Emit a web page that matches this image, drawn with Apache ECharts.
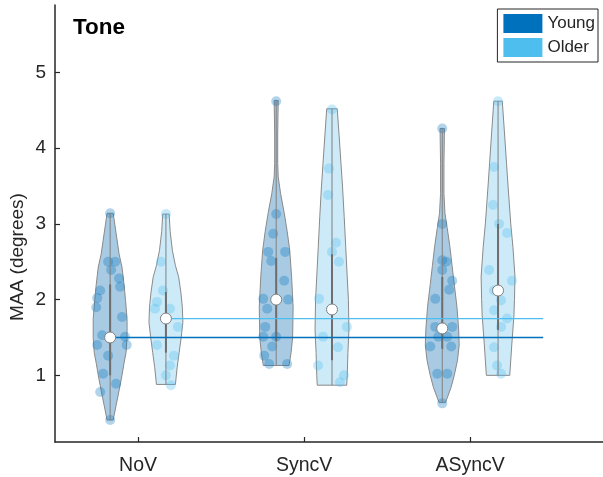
<!DOCTYPE html>
<html>
<head>
<meta charset="utf-8">
<script src="https://cdn.jsdelivr.net/npm/echarts@6/dist/echarts.min.js"></script>
<style>
  html, body { margin: 0; padding: 0; background: #fff; }
  #chart { width: 603px; height: 477px; }
</style>
</head>
<body>
<div id="chart"></div>
<script>
// Conditions on the x axis and the two listener groups
const categories = ['NoV', 'SyncV', 'ASyncV'];
const groupNames = ['Young', 'Older'];
const yTicks = [1, 2, 3, 4, 5];
const yTitle = 'MAA (degrees)';

// Medians and interquartile ranges (MAA, degrees)
const medianYoung = [1.5, 2.0, 1.62];
const medianOlder = [1.75, 1.87, 2.12];
const q1Young = [1.0, 1.45, 1.35];
const q3Young = [2.2, 2.55, 2.3];
const q1Older = [1.3, 1.2, 1.6];
const q3Older = [2.1, 2.6, 3.0];

// Individual listener values per condition
const noVYoung   = [3.14, 2.50, 2.50, 2.39, 2.28, 2.17, 2.12, 2.02, 1.90, 1.77, 1.53, 1.51, 1.40, 1.40, 1.26, 1.02, 0.89, 0.78, 0.41];
const syncVYoung = [4.62, 3.13, 2.87, 2.63, 2.63, 2.51, 2.25, 2.01, 2.00, 1.88, 1.64, 1.51, 1.51, 1.38, 1.26, 1.15, 1.15];
const aSyncVYoung= [4.26, 3.00, 2.52, 2.50, 2.39, 2.25, 2.13, 2.01, 1.64, 1.64, 1.51, 1.51, 1.38, 1.38, 1.02, 1.02, 0.63];
const noVOlder   = [3.13, 2.50, 2.12, 1.97, 1.88, 1.88, 1.64, 1.40, 1.26, 1.13, 1.00, 0.87];
const syncVOlder = [4.51, 3.73, 3.38, 2.75, 2.63, 2.50, 2.01, 1.64, 1.51, 1.37, 1.13, 1.00, 0.91];
const aSyncVOlder= [4.62, 3.75, 3.25, 3.00, 2.88, 2.39, 2.25, 2.12, 1.99, 1.86, 1.75, 1.64, 1.37, 1.13, 1.02];

// Horizontal jitter of the scatter points (x-axis units)
const noVYoungJit   = [0, -0.012, 0.03, 0.006, 0.054, 0.06, -0.06, -0.078, -0.084, 0.072, -0.048, 0.09, 0.1, -0.078, -0.012, -0.042, 0.036, -0.06, 0];
const syncVYoungJit = [0, 0, -0.018, -0.048, 0.054, -0.03, 0.048, -0.078, 0.072, -0.054, -0.066, 0, -0.078, -0.024, -0.072, -0.042, 0.066];
const aSyncVYoungJit= [0, 0, 0, 0.024, 0, 0.06, 0.042, -0.042, -0.042, 0.06, -0.024, 0.03, -0.072, 0.054, -0.03, 0.03, 0];
const noVOlderJit   = [0, -0.03, -0.018, -0.054, -0.066, 0.024, 0.072, -0.054, 0.048, 0.024, 0, 0.03];
const syncVOlderJit = [0, -0.018, -0.024, 0.024, 0, 0.042, -0.078, 0.09, -0.054, 0.036, -0.084, 0.072, 0.048];
const aSyncVOlderJit= [0, -0.024, -0.03, 0.006, 0.054, -0.054, 0.084, -0.024, 0.018, -0.024, 0.054, 0.018, -0.024, -0.006, 0.018];

// Kernel density profiles: [MAA, density normalised to 1]
const densNoVYoung = [[3.14,0.18],[2.88,0.35],[2.6,0.53],[2.43,0.7],[2.2,0.82],[1.99,0.91],[1.75,1.0],[1.5,1.0],[1.3,0.94],[1.16,0.82],[1.0,0.7],[0.8,0.53],[0.6,0.35],[0.41,0.18]];
const densSyncVYoung = [[4.63,0.12],[4.2,0.09],[3.8,0.09],[3.62,0.12],[3.4,0.26],[3.15,0.47],[2.9,0.65],[2.65,0.8],[2.3,0.91],[1.9,1.0],[1.5,0.97],[1.3,0.88],[1.13,0.76]];
const densASyncVYoung = [[4.26,0.13],[3.8,0.1],[3.4,0.1],[3.14,0.16],[2.95,0.29],[2.7,0.45],[2.45,0.58],[2.2,0.71],[1.9,0.87],[1.6,0.97],[1.4,1.0],[1.2,0.9],[1.0,0.71],[0.84,0.52],[0.64,0.19]];
const densNoVOlder = [[3.13,0.19],[2.9,0.25],[2.65,0.38],[2.45,0.56],[2.3,0.75],[2.1,0.88],[1.9,0.97],[1.7,1.0],[1.5,0.9],[1.3,0.78],[1.1,0.66],[0.88,0.56]];
const densSyncVOlder = [[4.52,0.31],[4.2,0.41],[3.8,0.53],[3.5,0.62],[3.1,0.72],[2.7,0.81],[2.3,0.9],[2.0,0.97],[1.6,1.0],[1.3,0.94],[1.0,0.9],[0.87,0.87]];
const densASyncVOlder = [[4.62,0.25],[4.2,0.38],[3.8,0.5],[3.5,0.59],[3.0,0.75],[2.69,0.88],[2.3,1.0],[2.0,0.97],[1.8,0.94],[1.4,0.81],[1.0,0.69]];

// ---- layout / style constants ----
const FONT = '"Liberation Sans", Arial, Helvetica, sans-serif';
const TEXT = '#262626';
const YOUNG = '#0072BD';
const OLDER = '#4DBEEE';
const GROUP_OFFSET = 0.168;   // violin centre offset from the condition tick
const HALF_WIDTH = 0.102;     // maximum half-width of a violin (x units)
const REF_END = 3.44;         // right end of the baseline reference lines

const young = {
  name: 'Young', color: YOUNG, offset: -GROUP_OFFSET,
  values: [noVYoung, syncVYoung, aSyncVYoung],
  jitter: [noVYoungJit, syncVYoungJit, aSyncVYoungJit],
  dens: [densNoVYoung, densSyncVYoung, densASyncVYoung],
  median: medianYoung, q1: q1Young, q3: q3Young,
  fill: 'rgba(0,100,170,0.34)', dot: 'rgba(0,114,189,0.38)'
};
const older = {
  name: 'Older', color: OLDER, offset: GROUP_OFFSET,
  values: [noVOlder, syncVOlder, aSyncVOlder],
  jitter: [noVOlderJit, syncVOlderJit, aSyncVOlderJit],
  dens: [densNoVOlder, densSyncVOlder, densASyncVOlder],
  median: medianOlder, q1: q1Older, q3: q3Older,
  fill: 'rgba(77,180,230,0.28)', dot: 'rgba(77,190,238,0.40)'
};

function violinSeries(g) {
  return {
    name: g.name,
    type: 'custom',
    z: 2,
    itemStyle: { color: g.color },
    data: categories.map((c, i) => [i + 1, g.median[i]]),
    renderItem: function (params, api) {
      const i = params.dataIndex;
      const cx = api.value(0) + g.offset;
      const prof = g.dens[i];
      const left = prof.map(p => api.coord([cx - p[1] * HALF_WIDTH, p[0]]));
      const right = prof.slice().reverse().map(p => api.coord([cx + p[1] * HALF_WIDTH, p[0]]));
      return {
        type: 'polygon',
        shape: { points: left.concat(right) },
        style: { fill: g.fill, stroke: '#8a8a8a', lineWidth: 1 }
      };
    }
  };
}

function boxSeries(g) {
  return {
    name: g.name + ' box',
    type: 'custom',
    z: 4,
    silent: true,
    data: categories.map((c, i) => [i + 1, g.median[i]]),
    renderItem: function (params, api) {
      const i = params.dataIndex;
      const cx = api.value(0) + g.offset;
      const prof = g.dens[i];
      const top = api.coord([cx, prof[0][0]]);
      const bot = api.coord([cx, prof[prof.length - 1][0]]);
      const b1 = api.coord([cx, g.q3[i]]);
      const b2 = api.coord([cx, g.q1[i]]);
      return {
        type: 'group',
        children: [
          { type: 'line', shape: { x1: top[0], y1: top[1], x2: bot[0], y2: bot[1] },
            style: { stroke: '#808080', lineWidth: 1 } },
          { type: 'line', shape: { x1: b1[0], y1: b1[1], x2: b2[0], y2: b2[1] },
            style: { stroke: '#6e6e6e', lineWidth: 2 } }
        ]
      };
    }
  };
}

function pointSeries(g) {
  const data = [];
  g.values.forEach((vals, i) => {
    vals.forEach((v, k) => data.push([i + 1 + g.offset + g.jitter[i][k], v]));
  });
  return {
    name: g.name + ' points',
    type: 'scatter',
    z: 3,
    silent: true,
    symbolSize: 10,
    itemStyle: { color: g.dot, borderWidth: 0 },
    data: data
  };
}

function medianSeries(g) {
  return {
    name: g.name + ' median',
    type: 'scatter',
    z: 6,
    silent: true,
    symbolSize: 11,
    itemStyle: { color: '#ffffff', borderColor: '#7f7f7f', borderWidth: 1, opacity: 1 },
    data: g.median.map((m, i) => [i + 1 + g.offset, m])
  };
}

function refLine(g) {
  return {
    name: g.name + ' baseline',
    type: 'line',
    z: 5,
    silent: true,
    symbol: 'none',
    lineStyle: { color: g.color, width: 1.3 },
    data: [[1 + g.offset, g.median[0]], [REF_END, g.median[0]]]
  };
}

const chart = echarts.init(document.getElementById('chart'), null, { renderer: 'canvas' });
chart.setOption({
  animation: false,
  backgroundColor: '#ffffff',
  textStyle: { fontFamily: FONT },
  title: {
    text: 'Tone', left: 73, top: 16, padding: 0,
    textStyle: { fontFamily: FONT, fontSize: 22.5, fontWeight: 'bold', color: '#000' }
  },
  legend: {
    orient: 'vertical', right: 5, top: 9,
    padding: [5, 3, 5, 6], itemGap: 5,
    itemWidth: 39, itemHeight: 19,
    borderColor: '#262626', borderWidth: 1, backgroundColor: '#fff',
    selectedMode: false,
    textStyle: { fontFamily: FONT, fontSize: 17, color: TEXT, padding: [0, 0, 0, 0] },
    data: [
      { name: groupNames[0], icon: 'rect', itemStyle: { color: YOUNG, opacity: 1, borderWidth: 0 } },
      { name: groupNames[1], icon: 'rect', itemStyle: { color: OLDER, opacity: 1, borderWidth: 0 } }
    ]
  },
  graphic: [{
    type: 'text',
    x: 18, y: 257, rotation: Math.PI / 2,
    style: {
      text: yTitle, fontFamily: FONT, fontSize: 19, fill: TEXT,
      align: 'center', verticalAlign: 'middle'
    }
  }],
  grid: { left: 55, right: 0, top: 5, bottom: 35, containLabel: false, outerBoundsMode: 'none' },
  xAxis: {
    type: 'value', min: 0.5, max: 3.8,
    splitLine: { show: false },
    axisLine: { show: true, lineStyle: { color: TEXT, width: 1.5 } },
    axisTick: { show: true, inside: true, length: 5, customValues: [1, 2, 3], lineStyle: { color: TEXT, width: 1.2 } },
    axisLabel: {
      customValues: [1, 2, 3], margin: 14, fontSize: 19.5, color: TEXT, fontFamily: FONT,
      formatter: v => categories[Math.round(v) - 1] || ''
    }
  },
  yAxis: {
    type: 'value', min: 0.12, max: 5.89,
    splitLine: { show: false },
    axisLine: { show: true, lineStyle: { color: TEXT, width: 1.5 } },
    axisTick: { show: true, inside: true, length: 5, customValues: yTicks, lineStyle: { color: TEXT, width: 1.2 } },
    axisLabel: { customValues: yTicks, margin: 9, fontSize: 19, color: TEXT, fontFamily: FONT }
  },
  series: [
    violinSeries(young), violinSeries(older),
    pointSeries(young), pointSeries(older),
    boxSeries(young), boxSeries(older),
    refLine(young), refLine(older),
    medianSeries(young), medianSeries(older)
  ]
});
</script>
</body>
</html>
